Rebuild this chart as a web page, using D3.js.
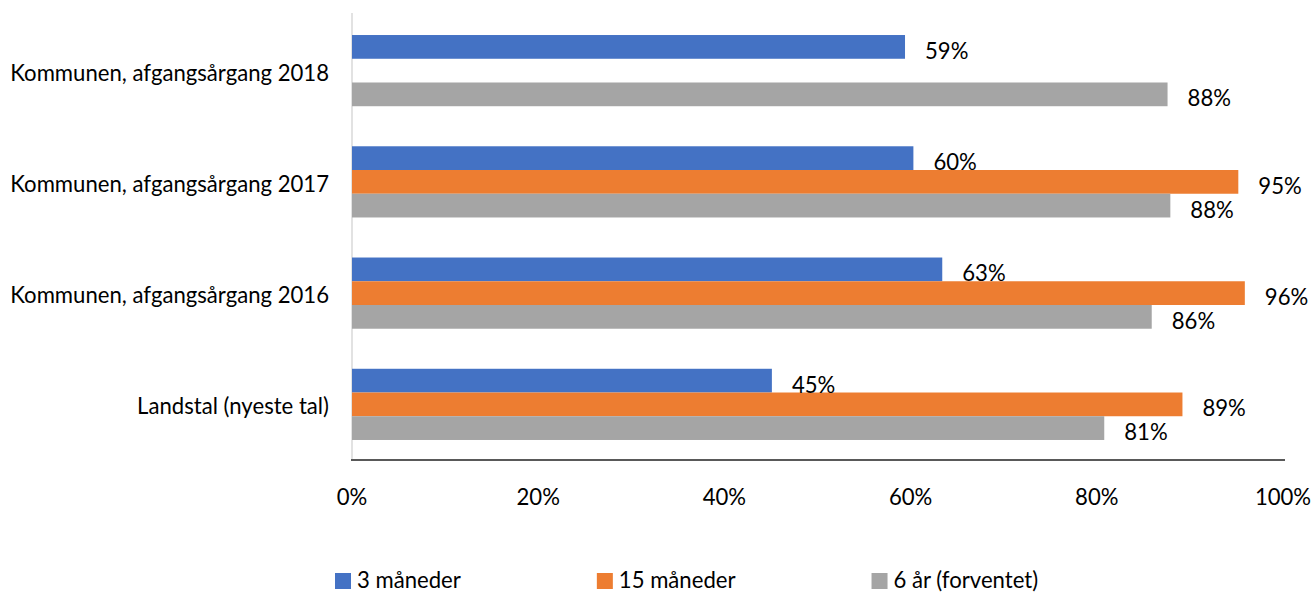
<!DOCTYPE html>
<html><head><meta charset="utf-8">
<script src="https://cdn.jsdelivr.net/npm/d3@7"></script>
<style>html,body{margin:0;padding:0;background:#fff;overflow:hidden}</style>
</head><body>
<svg id="chart" width="1314" height="594"></svg>
<script>
const categories = ["Kommunen, afgangsårgang 2018","Kommunen, afgangsårgang 2017","Kommunen, afgangsårgang 2016","Landstal (nyeste tal)"];
const seriesNames = ["3 måneder","15 måneder","6 år (forventet)"];
const valuesM3  = [59.4, 60.3, 63.4, 45.1];
const valuesM15 = [null, 95.2, 95.9, 89.2];
const valuesY6  = [87.6, 87.9, 85.9, 80.8];
const tickValues = [0, 20, 40, 60, 80, 100];
const colors = ["#4472C4","#ED7D31","#A5A5A5"];

const seriesValues = [valuesM3, valuesM15, valuesY6];
const svg = d3.select("#chart");
const fontFamily = "Lato, 'Open Sans', sans-serif";

// fit font size to Calibri-like metrics
const probe = svg.append("text").attr("font-family", fontFamily).attr("font-size", 24).text(categories[0]);
const w = probe.node().getComputedTextLength();
probe.remove();
const fs = 24 * 319 / w;

const x = d3.scaleLinear().domain([0, 100]).range([352, 1283]);
const y0 = d3.scaleBand().domain(categories).range([15, 460]).paddingInner(0.36).paddingOuter(0.18);
const y1 = d3.scaleBand().domain(seriesNames).range([0, y0.bandwidth()]);

// vertical axis line
svg.append("line").attr("x1", 352).attr("x2", 352).attr("y1", 13).attr("y2", 460)
  .attr("stroke", "#d9d9d9").attr("stroke-width", 1.5);

// bars
const rows = [];
categories.forEach((c, i) => seriesNames.forEach((s, j) => {
  const v = seriesValues[j][i];
  if (v != null) rows.push({c, s, j, v});
}));
svg.append("g").selectAll("rect").data(rows).join("rect")
  .attr("x", x(0))
  .attr("y", d => y0(d.c) + y1(d.s))
  .attr("width", d => x(d.v) - x(0))
  .attr("height", y1.bandwidth())
  .attr("fill", d => colors[d.j]);

// data labels
const fmt = d3.format(".0%");
svg.append("g").selectAll("text").data(rows).join("text")
  .attr("x", d => x(d.v) + 20)
  .attr("y", d => y0(d.c) + y1(d.s) + y1.bandwidth() / 2 + 12)
  .attr("font-family", fontFamily).attr("font-size", fs).attr("fill", "#000")
  .text(d => fmt(d.v / 100));

// horizontal axis
svg.append("line").attr("x1", 351).attr("x2", 1285).attr("y1", 460).attr("y2", 460)
  .attr("stroke", "#595959").attr("stroke-width", 2);
svg.append("g").selectAll("text").data(tickValues).join("text")
  .attr("x", d => x(d)).attr("y", 505)
  .attr("text-anchor", "middle")
  .attr("font-family", fontFamily).attr("font-size", fs).attr("fill", "#000")
  .text(d => d + "%");

// category labels
svg.append("g").selectAll("text").data(categories).join("text")
  .attr("x", 329).attr("y", d => y0(d) + y0.bandwidth() / 2 + 10)
  .attr("text-anchor", "end")
  .attr("font-family", fontFamily).attr("font-size", fs).attr("fill", "#000")
  .text(d => d);

// legend
let lx = 335;
seriesNames.forEach((s, j) => {
  const g = svg.append("g");
  g.append("rect").attr("x", lx).attr("y", 573).attr("width", 16).attr("height", 16).attr("fill", colors[j]);
  const t = g.append("text").attr("x", lx + 22).attr("y", 588)
    .attr("font-family", fontFamily).attr("font-size", fs).attr("fill", "#000").text(s);
  lx += 22 + t.node().getComputedTextLength() + 136;
});
</script>
</body></html>
